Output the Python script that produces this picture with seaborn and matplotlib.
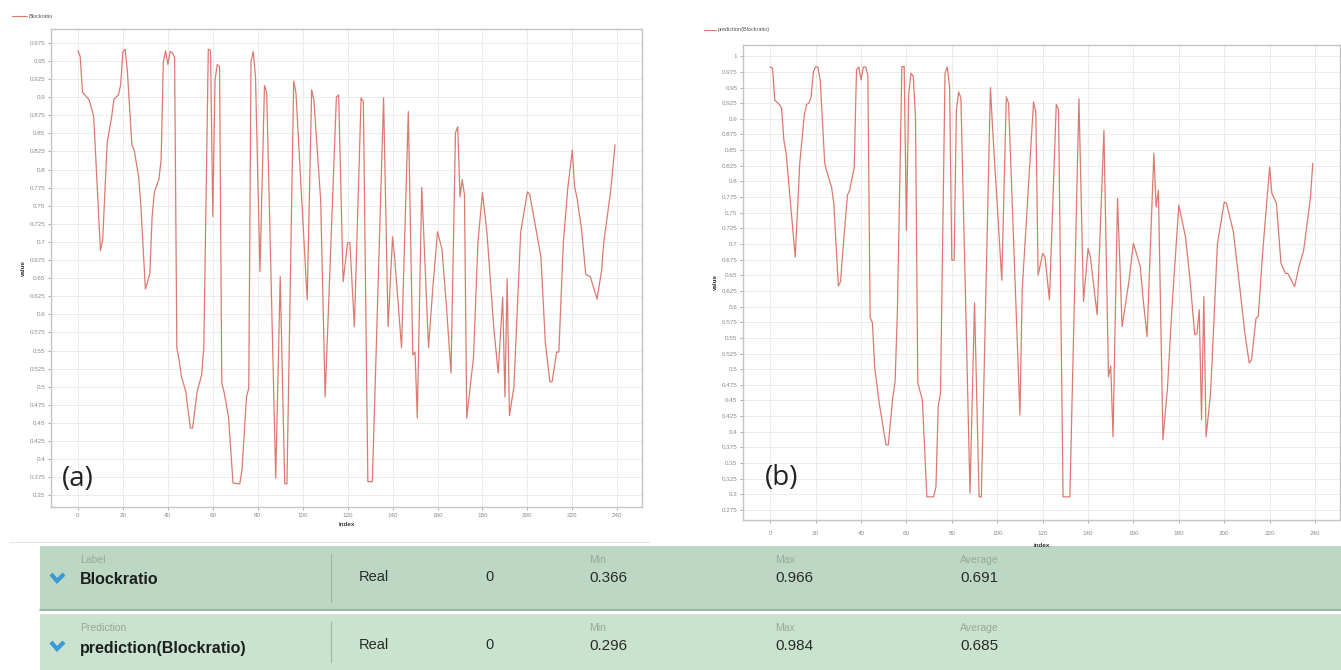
import matplotlib
matplotlib.use("Agg")
import matplotlib.pyplot as plt
import seaborn as sns
import pandas as pd
import numpy as np
from matplotlib.patches import Rectangle
from matplotlib.ticker import FuncFormatter, MultipleLocator

# values (index, value at each visible vertex)
real_idx = [0, 1, 2, 5, 7, 10, 11, 13, 15, 16, 18, 19, 20, 21, 22, 24, 25, 27, 28, 30,
            31, 32, 33, 34, 36, 37, 38, 39, 40, 41, 42, 43, 44, 45, 46, 48, 50, 51, 53, 55,
            56, 58, 59, 60, 61, 62, 63, 64, 65, 67, 69, 72, 73, 75, 76, 77, 78, 79, 81, 83,
            84, 88, 90, 92, 93, 96, 97, 102, 104, 105, 108, 110, 115, 116, 118, 120, 121, 123, 126, 127,
            129, 131, 136, 138, 140, 141, 144, 147, 149, 150, 151, 153, 156, 158, 160, 162, 164, 166, 168, 169,
            170, 171, 172, 173, 176, 178, 180, 182, 185, 187, 189, 190, 191, 192, 194, 197, 200, 201, 206, 208,
            210, 211, 213, 214, 216, 218, 220, 221, 222, 224, 226, 228, 231, 233, 234, 237, 239]
real_val = [0.964, 0.956, 0.907, 0.896, 0.873, 0.688, 0.703, 0.837, 0.873, 0.897, 0.903, 0.917, 0.963, 0.966, 0.935, 0.834, 0.827, 0.790, 0.749, 0.635,
            0.645, 0.657, 0.735, 0.769, 0.786, 0.813, 0.949, 0.964, 0.945, 0.963, 0.961, 0.955, 0.554, 0.537, 0.515, 0.493, 0.443, 0.443, 0.493, 0.516,
            0.554, 0.966, 0.964, 0.735, 0.924, 0.945, 0.942, 0.505, 0.493, 0.458, 0.367, 0.366, 0.385, 0.486, 0.498, 0.949, 0.963, 0.928, 0.659, 0.916,
            0.906, 0.374, 0.652, 0.366, 0.366, 0.922, 0.906, 0.620, 0.910, 0.896, 0.758, 0.486, 0.900, 0.903, 0.645, 0.699, 0.699, 0.583, 0.899, 0.894,
            0.369, 0.369, 0.899, 0.583, 0.707, 0.675, 0.554, 0.880, 0.544, 0.548, 0.457, 0.775, 0.554, 0.640, 0.714, 0.690, 0.610, 0.519, 0.851, 0.859,
            0.762, 0.786, 0.765, 0.457, 0.540, 0.700, 0.768, 0.713, 0.583, 0.519, 0.624, 0.486, 0.649, 0.460, 0.500, 0.713, 0.769, 0.766, 0.680, 0.560,
            0.507, 0.507, 0.548, 0.548, 0.700, 0.775, 0.827, 0.776, 0.762, 0.720, 0.655, 0.652, 0.621, 0.660, 0.700, 0.769, 0.834]

pred_idx = [0, 1, 2, 4, 5, 6, 7, 11, 13, 15, 16, 17, 18, 19, 20, 21, 22, 24, 25, 27,
            28, 30, 31, 32, 34, 35, 37, 38, 39, 40, 41, 42, 43, 44, 45, 46, 48, 51, 52, 54,
            55, 56, 58, 59, 60, 61, 62, 63, 64, 65, 67, 69, 72, 73, 74, 75, 77, 78, 79, 80,
            81, 82, 83, 84, 88, 90, 92, 93, 97, 98, 102, 104, 105, 110, 111, 116, 117, 118, 120, 121,
            123, 126, 127, 129, 132, 136, 138, 140, 141, 144, 147, 149, 150, 151, 153, 155, 158, 160, 163, 164,
            166, 169, 170, 171, 173, 175, 177, 180, 183, 185, 187, 188, 189, 190, 191, 192, 194, 197, 200, 201,
            204, 207, 209, 211, 212, 214, 215, 217, 220, 221, 223, 225, 227, 228, 231, 233, 235, 238, 239]
pred_val = [0.983, 0.981, 0.930, 0.923, 0.917, 0.866, 0.845, 0.679, 0.829, 0.906, 0.923, 0.925, 0.935, 0.975, 0.983, 0.983, 0.962, 0.829, 0.815, 0.791,
            0.765, 0.633, 0.640, 0.690, 0.778, 0.786, 0.823, 0.978, 0.983, 0.962, 0.983, 0.983, 0.970, 0.583, 0.574, 0.504, 0.446, 0.379, 0.379, 0.455,
            0.480, 0.590, 0.983, 0.984, 0.722, 0.940, 0.973, 0.968, 0.900, 0.478, 0.451, 0.296, 0.296, 0.312, 0.440, 0.462, 0.973, 0.983, 0.951, 0.674,
            0.674, 0.914, 0.943, 0.933, 0.302, 0.606, 0.296, 0.296, 0.950, 0.882, 0.642, 0.935, 0.925, 0.427, 0.627, 0.927, 0.910, 0.650, 0.685, 0.680,
            0.611, 0.923, 0.915, 0.296, 0.296, 0.932, 0.608, 0.693, 0.680, 0.587, 0.882, 0.488, 0.505, 0.392, 0.773, 0.568, 0.640, 0.701, 0.664, 0.622,
            0.552, 0.845, 0.759, 0.786, 0.387, 0.470, 0.600, 0.762, 0.710, 0.640, 0.555, 0.557, 0.595, 0.419, 0.616, 0.392, 0.462, 0.700, 0.767, 0.765,
            0.720, 0.626, 0.560, 0.510, 0.515, 0.581, 0.585, 0.690, 0.823, 0.781, 0.765, 0.669, 0.653, 0.653, 0.632, 0.665, 0.690, 0.775, 0.829]

# summary rows under the charts
row_kind = ["Label", "Prediction"]
row_name = ["Blockratio", "prediction(Blockratio)"]
row_type = ["Real", "Real"]
row_missing = ["0", "0"]
row_min = ["0.366", "0.296"]
row_max = ["0.966", "0.984"]
row_avg = ["0.691", "0.685"]

LINE = "#dc7a70"
GRID = "#ececec"
FRAME = "#c4c4c4"
TICK = "#8a8a8a"

sns.set_theme(style="white")
plt.rcParams["font.family"] = ["Liberation Sans", "DejaVu Sans"]

W, H = 1341, 670
fig = plt.figure(figsize=(W / 100, H / 100), dpi=100)

# pixel overlay for the legend stubs and the summary rows
ov = fig.add_axes([0, 0, 1, 1], zorder=0)
ov.set_xlim(0, W)
ov.set_ylim(H, 0)
ov.axis("off")


def fmt(v, pos):
    return f"{v:.3f}".rstrip("0").rstrip(".")


def chart(rect, xs, ys, ylim, ybase, tag, tag_pos, xpad, xlabpad):
    ax = fig.add_axes(rect, zorder=2)
    df = pd.DataFrame({"index": xs, "value": ys})
    sns.lineplot(data=df, x="index", y="value", ax=ax, color=LINE, lw=0.9, estimator=None)
    ax.set_xlim(-12, 251)
    ax.set_ylim(*ylim)
    ax.xaxis.set_major_locator(MultipleLocator(20))
    ax.set_yticks(np.arange(ybase, ylim[1], 0.025))
    ax.yaxis.set_major_formatter(FuncFormatter(fmt))
    ax.grid(True, color=GRID, lw=0.7)
    ax.tick_params(labelsize=4.5, colors=TICK, length=2, width=0.5, pad=2,
                   left=True, bottom=True)
    ax.tick_params(axis="x", pad=xpad)
    for s in ax.spines.values():
        s.set_color(FRAME)
        s.set_linewidth(1.0)
    ax.set_xlabel("index", fontsize=4.5, fontweight="bold", color="#333333", labelpad=xlabpad)
    ax.set_ylabel("value", fontsize=4.5, fontweight="bold", color="#333333", labelpad=3)
    ax.text(tag_pos[0], tag_pos[1], tag, transform=ax.transAxes, fontsize=20,
            family=["Open Sans", "DejaVu Sans"], color="#222222", va="center", ha="left")
    return ax


chart([51 / W, 1 - 507 / H, 591 / W, 478 / H], real_idx, real_val,
      (0.334, 0.994), 0.35, "(a)", (0.018, 0.058), 2, 3)
chart([743 / W, 1 - 520 / H, 597 / W, 475 / H], pred_idx, pred_val,
      (0.259, 1.018), 0.275, "(b)", (0.036, 0.088), 6, 5)

# legends
ov.plot([12, 27], [16, 16], color=LINE, lw=0.8)
ov.text(29, 16, "Blockratio", fontsize=4, color="#555555", va="center")
ov.plot([704, 716], [30, 30], color=LINE, lw=0.8)
ov.text(718, 30, "prediction(Blockratio)", fontsize=4, color="#555555", va="center")

# thin rule under the charts
ov.plot([10, 650], [542, 542], color="#e4e4e4", lw=0.8)

# summary rows
bands = [(546, 610, "#bcd7c3"), (614, 670, "#c9e3cf")]
for i, (y0, y1, c) in enumerate(bands):
    ov.add_patch(Rectangle((40, y0), W - 40, y1 - y0, facecolor=c, edgecolor="none"))
    if i == 0:
        ov.plot([40, W], [y1 - 0.5, y1 - 0.5], color="#8eab96", lw=1.2)
    ov.plot([331, 331], [y0 + 8, y1 - 8], color="#9db7a4", lw=0.8)
    top = y0 + 14
    mid = y0 + 33
    # blue chevron toggle
    ov.plot([51, 57, 64], [mid - 5, mid + 2, mid - 5], color="#3a9ad6", lw=3.0,
            solid_capstyle="butt", solid_joinstyle="miter")
    ov.text(80, top, row_kind[i], fontsize=7.5, color="#98a89c", va="center")
    ov.text(80, mid + 1, row_name[i], fontsize=11.5, fontweight="bold", color="#1e1e1e", va="center")
    ov.text(359, mid - 2, row_type[i], fontsize=10.5, color="#2a2a2a", va="center")
    ov.text(485, mid - 2, row_missing[i], fontsize=10.5, color="#2a2a2a", va="center")
    for x, lab, val in [(589, "Min", row_min[i]), (775, "Max", row_max[i]), (960, "Average", row_avg[i])]:
        ov.text(x, top, lab, fontsize=7.5, color="#98a89c", va="center")
        ov.text(x, mid - 1, val, fontsize=11, color="#2a2a2a", va="center")

fig.savefig("out.png", dpi=100)
